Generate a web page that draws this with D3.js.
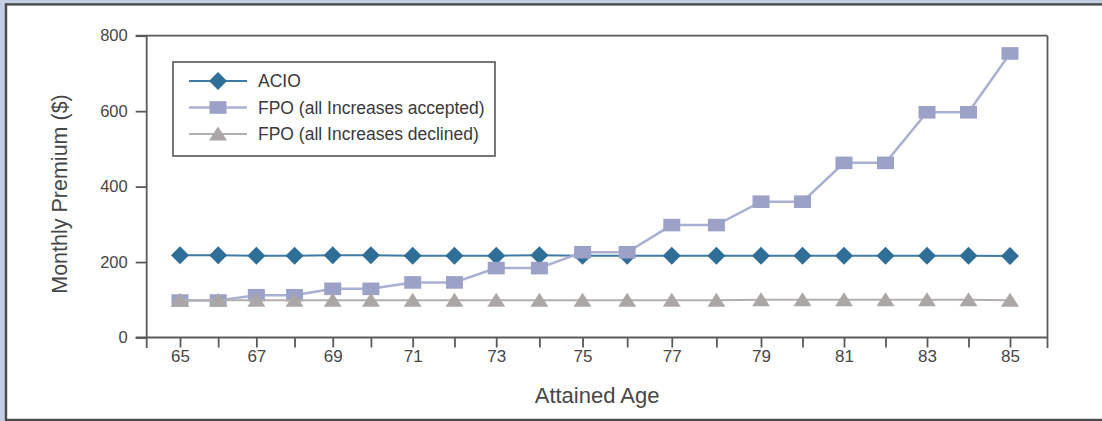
<!DOCTYPE html>
<html>
<head>
<meta charset="utf-8">
<script src="https://cdn.jsdelivr.net/npm/d3@7"></script>
<style>
  html, body { margin: 0; padding: 0; background: #c3cde3; }
  svg { display: block; }
</style>
</head>
<body>
<svg id="chart" width="1102" height="421"></svg>
<script>
// ---- data ----
const ages = [65,66,67,68,69,70,71,72,73,74,75,76,77,78,79,80,81,82,83,84,85];
const acio = [218,218,217,217,218,218,217,217,217,218,217,217,217,217,217,217,217,217,217,217,216];
const fpoAccepted = [98,98,112,112,129,129,146,146,184,184,226,226,298,298,360,360,463,463,597,597,753];
const fpoDeclined = [99,99,99,99,99,99,99,99,99,99,99,99,99,99,100,100,100,100,100,100,99];
const yTicks = [0,200,400,600,800];
const seriesNames = ["ACIO", "FPO (all Increases accepted)", "FPO (all Increases declined)"];
const yTitle = "Monthly Premium ($)";
const xTitle = "Attained Age";

// ---- layout ----
const svg = d3.select("#chart");
const W = 1102, H = 421;
const plot = { left: 146.7, right: 1047.5, top: 35.7, bottom: 337.5 };
const axisColor = "#5a5a5a";
const textColor = "#474747";
const font = "'Liberation Sans', Arial, sans-serif";

// outer panel
svg.append("rect").attr("x", 0).attr("y", 0).attr("width", W).attr("height", H).attr("fill", "#c3cde3");
svg.append("rect").attr("x", 6).attr("y", 4.4).attr("width", W + 20).attr("height", H - 5.4)
  .attr("fill", "#ffffff").attr("stroke", "#4a4a4a").attr("stroke-width", 2.4);

// scales (the original axis is slightly non-uniform; knots follow its tick marks)
const x65 = plot.left + 33.3, x85 = plot.right - 37.5, span = x85 - x65;
const x = d3.scaleLinear()
  .domain([65, 70, 73, 75, 79, 85])
  .range([0, 0.230, 0.381, 0.485, 0.700, 1].map(f => x65 + f * span));
const y = d3.scaleLinear().domain([0, 800]).range([plot.bottom, plot.top]);

// frame
const frame = svg.append("g").attr("stroke", axisColor).attr("stroke-width", 1.8).attr("fill", "none");
frame.append("line").attr("x1", plot.left - 11).attr("x2", plot.right).attr("y1", plot.top).attr("y2", plot.top);
frame.append("line").attr("x1", plot.right).attr("x2", plot.right).attr("y1", plot.top).attr("y2", plot.bottom + 10.5);

// y axis
const yAxis = svg.append("g").attr("transform", `translate(${plot.left},0)`)
  .call(d3.axisLeft(y).tickValues(yTicks).tickSize(11).tickPadding(8).tickSizeOuter(0));
yAxis.select(".domain").remove();
yAxis.append("line").attr("x1", 0).attr("x2", 0).attr("y1", plot.top).attr("y2", plot.bottom + 10.5)
  .attr("stroke", axisColor).attr("stroke-width", 1.8);
yAxis.selectAll(".tick line").attr("stroke", axisColor).attr("stroke-width", 1.8);
yAxis.selectAll(".tick text").attr("fill", textColor).style("font-family", font).style("font-size", "16.5px");

// x axis
const xAxis = svg.append("g").attr("transform", `translate(0,${plot.bottom})`)
  .call(d3.axisBottom(x).tickValues(ages).tickSize(10).tickPadding(2)
    .tickFormat(d => d % 2 === 1 ? d : ""));
xAxis.select(".domain").remove();
xAxis.append("line").attr("x1", plot.left - 11).attr("x2", plot.right).attr("y1", 0).attr("y2", 0)
  .attr("stroke", axisColor).attr("stroke-width", 1.8);
xAxis.selectAll(".tick line").attr("stroke", axisColor).attr("stroke-width", 1.8);
xAxis.selectAll(".tick text").attr("fill", textColor).style("font-family", font).style("font-size", "17px");

// axis titles
svg.append("text").attr("x", (plot.left + plot.right) / 2).attr("y", 403)
  .attr("text-anchor", "middle").attr("fill", textColor)
  .style("font-family", font).style("font-size", "22px").text(xTitle);
svg.append("text").attr("transform", `translate(67,194) rotate(-90)`)
  .attr("text-anchor", "middle").attr("fill", textColor)
  .style("font-family", font).style("font-size", "21.5px").text(yTitle);

// series
const series = [
  { name: seriesNames[0], values: acio, line: "#3f7ba4", lw: 2, fill: "#2f6e97", shape: "diamond" },
  { name: seriesNames[1], values: fpoAccepted, line: "#aab0d2", lw: 2.5, fill: "#9ca2c7", shape: "square" },
  { name: seriesNames[2], values: fpoDeclined, line: "#b4afaf", lw: 2, fill: "#aca7a7", shape: "triangle" }
];

function drawMarker(g, shape, fill) {
  if (shape === "diamond") {
    g.append("path").attr("d", "M0,-9L9,0L0,9L-9,0Z").attr("fill", fill);
  } else if (shape === "square") {
    g.append("rect").attr("x", -8.5).attr("y", -6.3).attr("width", 17).attr("height", 12.6).attr("fill", fill);
  } else {
    g.append("path").attr("d", "M0,-7.5L9,6.5L-9,6.5Z").attr("fill", fill);
  }
}

const lineGen = d3.line().x(d => x(d[0])).y(d => y(d[1]));
series.forEach(s => {
  const pts = ages.map((a, i) => [a, s.values[i]]);
  const g = svg.append("g");
  g.append("path").attr("d", lineGen(pts)).attr("fill", "none")
    .attr("stroke", s.line).attr("stroke-width", s.lw);
  pts.forEach(p => {
    const mg = g.append("g").attr("transform", `translate(${x(p[0])},${y(p[1])})`);
    drawMarker(mg, s.shape, s.fill);
  });
});

// legend
const leg = svg.append("g");
leg.append("rect").attr("x", 173).attr("y", 62).attr("width", 322).attr("height", 94)
  .attr("fill", "#ffffff").attr("stroke", "#555555").attr("stroke-width", 1.6);
series.forEach((s, i) => {
  const cy = 81 + i * 26.5;
  const row = leg.append("g").attr("transform", `translate(0,${cy})`);
  row.append("line").attr("x1", 189).attr("x2", 247).attr("y1", 0).attr("y2", 0)
    .attr("stroke", s.line).attr("stroke-width", s.lw);
  const mg = row.append("g").attr("transform", "translate(218,0)");
  drawMarker(mg, s.shape, s.fill);
  row.append("text").attr("x", 258).attr("y", 0).attr("dy", "0.35em")
    .attr("fill", "#3a3a3a").style("font-family", font).style("font-size", "17.5px").text(s.name);
});
</script>
</body>
</html>
